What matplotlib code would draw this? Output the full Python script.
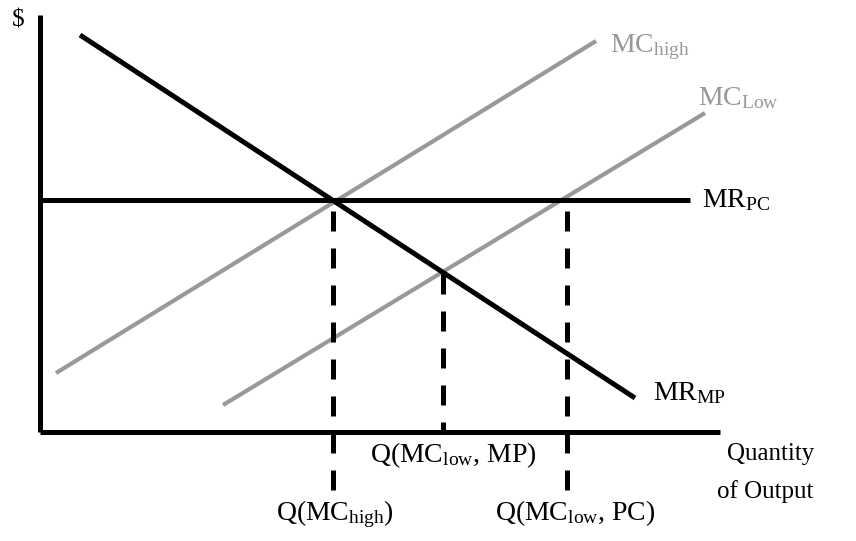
import matplotlib
matplotlib.use("Agg")

import matplotlib.pyplot as plt

plt.rcParams["font.family"] = ["Liberation Serif", "DejaVu Serif"]
plt.rcParams["mathtext.fontset"] = "custom"
plt.rcParams["mathtext.rm"] = "Liberation Serif"
plt.rcParams["mathtext.it"] = "Liberation Serif:italic"

BLACK = "#000000"
GREY = "#999999"

# curve endpoints (quantity, dollars), origin at the axes corner
mr_mp_x = [40, 595]
mr_mp_y = [397, 34]

mr_pc_x = [0, 650]
mr_pc_y = [232, 232]

mc_high_x = [16, 556]
mc_high_y = [59, 391]

mc_low_x = [183, 665]
mc_low_y = [27, 319]

# dashed quantity guides: x, top, bottom
q_x = [293, 403, 527]
q_top = [221, 158, 221]
q_bottom = [-61, 0, -61]

fig = plt.figure(figsize=(8.56, 5.41), dpi=100, facecolor="white")
ax = fig.add_axes([0, 0, 1, 1])
ax.set_xlim(-40, 816)
ax.set_ylim(-109, 432)
ax.axis("off")

# axes
ax.plot([0, 0], [0, 417], color=BLACK, lw=3.6, solid_capstyle="butt")
ax.plot([0, 680], [0, 0], color=BLACK, lw=3.6, solid_capstyle="butt")

ax.plot(mc_high_x, mc_high_y, color=GREY, lw=3.0, solid_capstyle="butt")
ax.plot(mc_low_x, mc_low_y, color=GREY, lw=3.0, solid_capstyle="butt")
ax.plot(mr_pc_x, mr_pc_y, color=BLACK, lw=3.6, solid_capstyle="butt")
ax.plot(mr_mp_x, mr_mp_y, color=BLACK, lw=3.6, solid_capstyle="butt")

for x, top, bot in zip(q_x, q_top, q_bottom):
    ax.plot([x, x], [top, bot], color=BLACK, lw=3.6,
            linestyle=(0, (4.0, 3.4)), dash_capstyle="butt")

fs = 20

ax.text(-28, 412, "$", fontsize=18, ha="left", va="center")
ax.text(570, 380, r"MC$_{\mathrm{high}}$", fontsize=fs, color=GREY,
        ha="left", va="baseline")
ax.text(658, 327, r"MC$_{\mathrm{Low}}$", fontsize=fs, color=GREY,
        ha="left", va="baseline")
ax.text(662, 225, r"MR$_{\mathrm{PC}}$", fontsize=fs, ha="left", va="baseline")
ax.text(613, 32, r"MR$_{\mathrm{MP}}$", fontsize=fs, ha="left", va="baseline")

ax.text(687, -22, "Quantity", fontsize=18, ha="left", va="center")
ax.text(677, -60, "of Output", fontsize=18, ha="left", va="center")

ax.text(413, -30, r"Q(MC$_{\mathrm{low}}$, MP)", fontsize=fs,
        ha="center", va="baseline")
ax.text(295, -88, r"Q(MC$_{\mathrm{high}}$)", fontsize=fs,
        ha="center", va="baseline")
ax.text(535, -88, r"Q(MC$_{\mathrm{low}}$, PC)", fontsize=fs,
        ha="center", va="baseline")

fig.savefig("out.png", dpi=100)
